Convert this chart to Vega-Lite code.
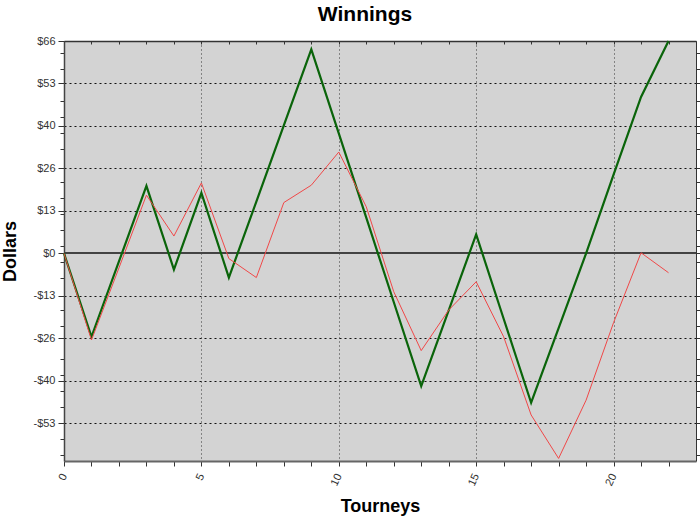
{
  "$schema": "https://vega.github.io/schema/vega-lite/v6.json",
  "autosize": "none",
  "width": 632,
  "height": 420,
  "padding": {"left": 64, "top": 41, "right": 4, "bottom": 62},
  "background": "white",
  "title": {"text": "Winnings", "font": "Liberation Sans", "fontSize": 21, "fontWeight": "bold", "color": "black", "frame": "group", "anchor": "middle", "baseline": "alphabetic", "offset": -7, "dx": -15},
  "config": {
    "view": {"fill": "#d3d3d3", "stroke": null},
    "axis": {"labelFont": "Liberation Sans", "labelFontSize": 11, "labelColor": "#333", "titleFont": "Liberation Sans", "titleFontSize": 18, "titleFontWeight": "bold", "titleColor": "black", "tickColor": "#333", "domainColor": "#444"}
  },
  "data": {"values": [
    {"t": 0, "v": 0, "s": "A"}, {"t": 1, "v": -25.9, "s": "A"}, {"t": 2, "v": -2.5, "s": "A"}, {"t": 3, "v": 21.0, "s": "A"},
    {"t": 4, "v": -5.0, "s": "A"}, {"t": 5, "v": 18.8, "s": "A"}, {"t": 6, "v": -7.5, "s": "A"}, {"t": 7, "v": 16.1, "s": "A"},
    {"t": 8, "v": 39.8, "s": "A"}, {"t": 9, "v": 63.4, "s": "A"}, {"t": 10, "v": 37.3, "s": "A"}, {"t": 11, "v": 11.1, "s": "A"},
    {"t": 12, "v": -15.1, "s": "A"}, {"t": 13, "v": -41.2, "s": "A"}, {"t": 14, "v": -17.7, "s": "A"}, {"t": 15, "v": 5.9, "s": "A"},
    {"t": 16, "v": -20.3, "s": "A"}, {"t": 17, "v": -46.4, "s": "A"}, {"t": 18, "v": -23.2, "s": "A"}, {"t": 19, "v": 0, "s": "A"},
    {"t": 20, "v": 24.5, "s": "A"}, {"t": 21, "v": 48.6, "s": "A"}, {"t": 22, "v": 66, "s": "A"},
    {"t": 0, "v": 0, "s": "B"}, {"t": 1, "v": -26.9, "s": "B"}, {"t": 2, "v": -4.5, "s": "B"}, {"t": 3, "v": 18.1, "s": "B"},
    {"t": 4, "v": 5.4, "s": "B"}, {"t": 5, "v": 21.9, "s": "B"}, {"t": 6, "v": -1.6, "s": "B"}, {"t": 7, "v": -7.5, "s": "B"},
    {"t": 8, "v": 15.8, "s": "B"}, {"t": 9, "v": 21.2, "s": "B"}, {"t": 10, "v": 31.5, "s": "B"}, {"t": 11, "v": 14.5, "s": "B"},
    {"t": 12, "v": -11.9, "s": "B"}, {"t": 13, "v": -30.2, "s": "B"}, {"t": 14, "v": -17.6, "s": "B"}, {"t": 15, "v": -8.8, "s": "B"},
    {"t": 16, "v": -25.9, "s": "B"}, {"t": 17, "v": -50.2, "s": "B"}, {"t": 18, "v": -63.7, "s": "B"}, {"t": 19, "v": -45.6, "s": "B"},
    {"t": 20, "v": -21.5, "s": "B"}, {"t": 21, "v": 0.2, "s": "B"}, {"t": 22, "v": -6.0, "s": "B"}
  ]},
  "resolve": {"axis": {"x": "independent", "y": "independent"}},
  "layer": [
    {
      "mark": {"type": "line", "strokeOpacity": 0},
      "encoding": {
        "x": {"field": "t", "type": "quantitative", "scale": {"domain": [0, 23], "nice": false, "zero": false},
          "axis": {"orient": "bottom", "values": [5, 10, 15, 20], "grid": true, "gridDash": [1, 3], "gridColor": "#333", "gridOpacity": 1, "ticks": false, "labels": false, "domain": false, "title": null}},
        "y": {"field": "v", "type": "quantitative", "scale": {"domain": [-64.5, 66], "nice": false, "zero": false},
          "axis": {"orient": "left", "values": [-52.8, -39.6, -26.4, -13.2, 13.2, 26.4, 39.6, 52.8, 66], "grid": true, "gridDash": [2, 3], "gridColor": "#111", "gridOpacity": 1, "ticks": false, "labels": false, "domain": false, "title": null}},
        "detail": {"field": "s"}
      }
    },
    {
      "mark": {"type": "rule", "color": "#444", "strokeWidth": 1},
      "encoding": {"y": {"datum": 0, "type": "quantitative", "axis": null}}
    },
    {
      "mark": {"type": "line", "strokeOpacity": 0},
      "encoding": {
        "x": {"field": "t", "type": "quantitative",
          "axis": {"orient": "top", "values": [0,1,2,3,4,5,6,7,8,9,10,11,12,13,14,15,16,17,18,19,20,21,22], "labels": false, "tickSize": -3, "grid": false, "domain": true, "domainColor": "#333", "domainWidth": 1.5, "title": null}},
        "y": {"field": "v", "type": "quantitative",
          "axis": {"orient": "right", "values": [-62.7, -57.7, -52.8, -47.7, -42.7, -39.6, -37.7, -32.7, -26.4, -22.7, -17.7, -13.2, -7.7, -2.7, 0, 2.3, 7.3, 12.3, 17.3, 22.3, 26.4, 32.3, 37.3, 39.6, 42.3, 47.3, 52.8, 57.3, 62.3], "labels": false, "tickSize": 5, "grid": false, "domain": true, "domainColor": "#333", "title": null}},
        "detail": {"field": "s"}
      }
    },
    {
      "mark": {"type": "line", "strokeOpacity": 0},
      "encoding": {
        "x": {"field": "t", "type": "quantitative", "axis": null},
        "y": {"field": "v", "type": "quantitative",
          "axis": {"orient": "left", "values": [-62.7, -57.7, -47.7, -42.7, -37.7, -32.7, -22.7, -17.7, -7.7, -2.7, 2.3, 7.3, 12.3, 17.3, 22.3, 32.3, 37.3, 42.3, 47.3, 57.3, 62.3], "labels": false, "tickSize": 4, "grid": false, "domain": false, "title": null}},
        "detail": {"field": "s"}
      }
    },
    {
      "mark": {"type": "line", "strokeJoin": "miter"},
      "encoding": {
        "x": {"field": "t", "type": "quantitative",
          "axis": {"orient": "bottom", "values": [0,1,2,3,4,5,6,7,8,9,10,11,12,13,14,15,16,17,18,19,20,21,22], "labelExpr": "datum.value % 5 == 0 ? datum.label : ''", "labelAngle": -65, "labelAlign": "right", "labelBaseline": "middle", "labelPadding": 8, "tickSize": 5, "grid": false, "domainColor": "#666", "domainWidth": 2, "title": "Tourneys", "titleX": 316, "titleY": 50, "titleAlign": "center", "titleBaseline": "alphabetic"}},
        "y": {"field": "v", "type": "quantitative",
          "axis": {"orient": "left", "values": [-52.8, -39.6, -26.4, -13.2, 0, 13.2, 26.4, 39.6, 52.8, 66], "labelExpr": "datum.value < 0 ? '-$' + format(-datum.value, '.0f') : '$' + format(datum.value, '.0f')", "labelPadding": 3, "tickSize": 6, "grid": false, "domainColor": "#444", "domainWidth": 1.5, "title": "Dollars", "titleAngle": -90, "titleX": -54, "titleY": 210, "titleAlign": "center", "titleBaseline": "middle"}},
        "color": {"field": "s", "type": "nominal", "scale": {"domain": ["A", "B"], "range": ["#0a640a", "#f04848"]}, "legend": null},
        "strokeWidth": {"field": "s", "type": "nominal", "scale": {"domain": ["A", "B"], "range": [2.2, 1]}, "legend": null},
        "order": {"field": "t", "type": "quantitative"}
      }
    }
  ]
}
